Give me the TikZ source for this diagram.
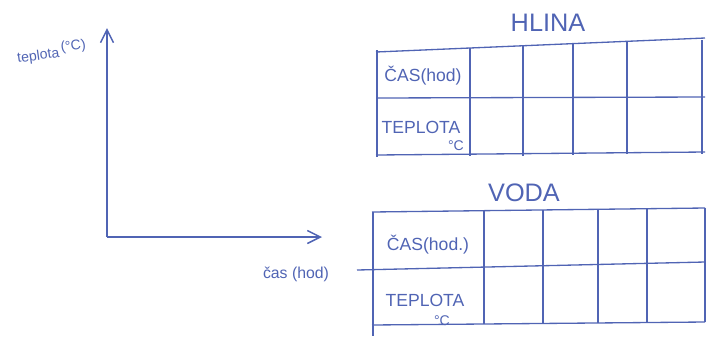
\documentclass[tikz,border=0pt]{standalone}
\usepackage{fontspec}
\setmainfont{Liberation Sans}
\usepackage{xcolor}
\usetikzlibrary{arrows.meta,positioning}
\definecolor{ink}{RGB}{80,100,180}

\begin{document}
\begin{tikzpicture}[
x=0.02cm, y=-0.02cm,
color=ink,
line width=0.75pt,
font=\small,
axis/.style={-{Straight Barb[length=2.6mm,width=2.6mm]}, line width=0.85pt},
grid/.style={line width=0.75pt},
title/.style={font=\Large, inner sep=1pt},
cell/.style={inner sep=1pt, font=\normalsize},
unit/.style={inner sep=0pt, font=\footnotesize}
]
\useasboundingbox (0,0) rectangle (707,336);
% axes
\coordinate (origin) at (107,237);
\coordinate (ytip) at (107,28);
\coordinate (xtip) at (322,237);
\draw[axis] (origin) -- (ytip);
\draw[axis] (origin) -- (xtip);
\node[rotate=8, inner sep=0pt, font=\footnotesize] (ylabel) at (52,52) {teplota$^{\,\textrm{(°C)}}$};
\node[inner sep=0pt] (xlabel) at (296,274) {čas (hod)};
% HLINA table
\node[title] (hlina) at (548,23) {HLINA};
\draw[grid] (376,52) -- (705,38);
\draw[grid] (376,98) -- (705,97);
\draw[grid] (376,155) -- (705,152);
\foreach \cx/\ct/\cb in {377/50/157, 470/48/156, 523/46/156, 573/44/155, 627/42/154, 702/40/154}
  \draw[grid] (\cx,\ct) -- (\cx,\cb);
\node[cell] (hcas) at (423,76) {ČAS(hod)};
\node[cell] (hteplota) at (421,127) {TEPLOTA};
\node[unit] (hunit) at (456,146) {°C};
% VODA table
\node[title] (voda) at (524,193) {VODA};
\draw[grid] (372,212) -- (705,208);
\draw[grid] (357,270) -- (705,262);
\draw[grid] (372,325) -- (705,322);
\foreach \cx/\ct/\cb in {373/212/336, 484/211/324, 543/210/323, 598/209/323, 647/208/323, 705/208/322}
  \draw[grid] (\cx,\ct) -- (\cx,\cb);
\node[cell] (vcas) at (428,245) {ČAS(hod.)};
\node[cell] (vteplota) at (425,300) {TEPLOTA};
\node[unit] (vunit) at (442,321) {°C};
\end{tikzpicture}
\end{document}
